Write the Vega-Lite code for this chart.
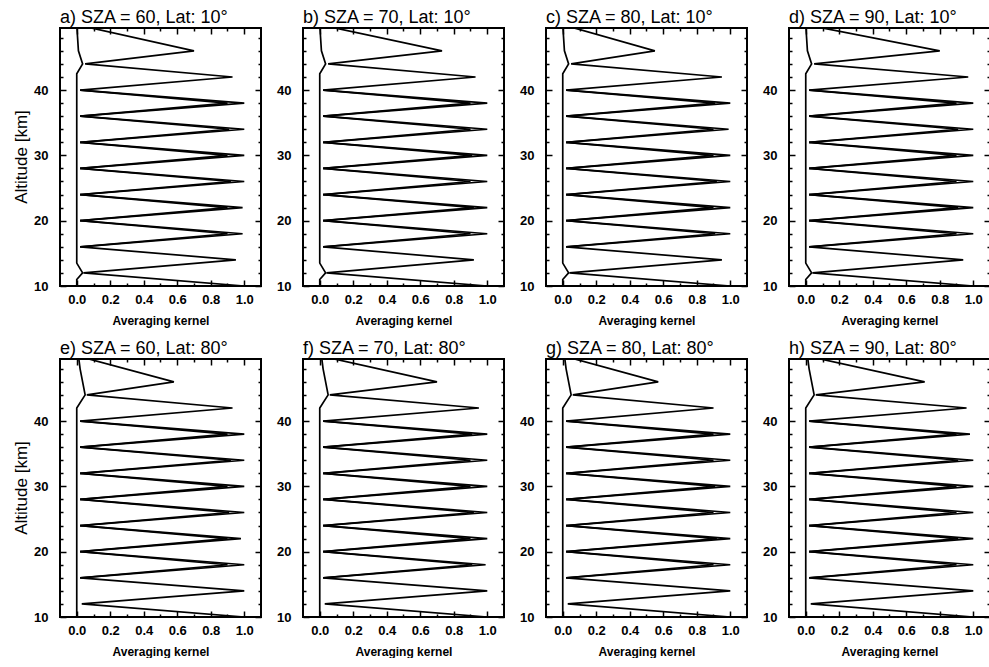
{
"$schema": "https://vega.github.io/schema/vega-lite/v6.json",
"padding": {"left": 12, "top": 9, "right": 0, "bottom": 0},
"datasets": {
"panels": [
{"p":"a","title":"a) SZA = 60, Lat: 10°","row":"top","ylab":"Altitude [km]"},
{"p":"b","title":"b) SZA = 70, Lat: 10°","row":"top","ylab":"Altitude [km]"},
{"p":"c","title":"c) SZA = 80, Lat: 10°","row":"top","ylab":"Altitude [km]"},
{"p":"d","title":"d) SZA = 90, Lat: 10°","row":"top","ylab":"Altitude [km]"},
{"p":"e","title":"e) SZA = 60, Lat: 80°","row":"bottom","ylab":"Altitude [km]"},
{"p":"f","title":"f) SZA = 70, Lat: 80°","row":"bottom","ylab":"Altitude [km]"},
{"p":"g","title":"g) SZA = 80, Lat: 80°","row":"bottom","ylab":"Altitude [km]"},
{"p":"h","title":"h) SZA = 90, Lat: 80°","row":"bottom","ylab":"Altitude [km]"}
],
"k": [
{"p":"a","s":"z","alt":50,"ak":0},{"p":"a","s":"z","alt":46,"ak":0.70},{"p":"a","s":"z","alt":44,"ak":0.05},{"p":"a","s":"z","alt":42,"ak":0.93},{"p":"a","s":"z","alt":40,"ak":0.02},{"p":"a","s":"z","alt":38,"ak":1.0},{"p":"a","s":"z","alt":36,"ak":0.02},{"p":"a","s":"z","alt":34,"ak":1.0},{"p":"a","s":"z","alt":32,"ak":0.02},{"p":"a","s":"z","alt":30,"ak":1.0},{"p":"a","s":"z","alt":28,"ak":0.02},{"p":"a","s":"z","alt":26,"ak":1.0},{"p":"a","s":"z","alt":24,"ak":0.02},{"p":"a","s":"z","alt":22,"ak":0.99},{"p":"a","s":"z","alt":20,"ak":0.02},{"p":"a","s":"z","alt":18,"ak":0.99},{"p":"a","s":"z","alt":16,"ak":0.02},{"p":"a","s":"z","alt":14,"ak":0.95},{"p":"a","s":"z","alt":12,"ak":0.04},{"p":"a","s":"z","alt":10,"ak":1.0},
{"p":"a","s":"0","alt":10,"ak":0},{"p":"a","s":"0","alt":11,"ak":0},{"p":"a","s":"0","alt":12,"ak":0.035},{"p":"a","s":"0","alt":13.5,"ak":0},{"p":"a","s":"0","alt":42.5,"ak":0},{"p":"a","s":"0","alt":44,"ak":0.035},{"p":"a","s":"0","alt":46,"ak":0.01},{"p":"a","s":"0","alt":50,"ak":0},
{"p":"a","s":"s38","alt":40,"ak":0.02},{"p":"a","s":"s38","alt":38,"ak":0.9},{"p":"a","s":"s38","alt":36,"ak":0.02},
{"p":"a","s":"s34","alt":36,"ak":0.02},{"p":"a","s":"s34","alt":34,"ak":0.91},{"p":"a","s":"s34","alt":32,"ak":0.02},
{"p":"a","s":"s30","alt":32,"ak":0.02},{"p":"a","s":"s30","alt":30,"ak":0.9},{"p":"a","s":"s30","alt":28,"ak":0.02},
{"p":"a","s":"s26","alt":28,"ak":0.02},{"p":"a","s":"s26","alt":26,"ak":0.92},{"p":"a","s":"s26","alt":24,"ak":0.02},
{"p":"a","s":"s22","alt":24,"ak":0.02},{"p":"a","s":"s22","alt":22,"ak":0.9},{"p":"a","s":"s22","alt":20,"ak":0.02},
{"p":"a","s":"s18","alt":20,"ak":0.02},{"p":"a","s":"s18","alt":18,"ak":0.9},{"p":"a","s":"s18","alt":16,"ak":0.02},

{"p":"b","s":"z","alt":50,"ak":0},{"p":"b","s":"z","alt":46,"ak":0.73},{"p":"b","s":"z","alt":44,"ak":0.05},{"p":"b","s":"z","alt":42,"ak":0.93},{"p":"b","s":"z","alt":40,"ak":0.02},{"p":"b","s":"z","alt":38,"ak":1.0},{"p":"b","s":"z","alt":36,"ak":0.02},{"p":"b","s":"z","alt":34,"ak":1.0},{"p":"b","s":"z","alt":32,"ak":0.02},{"p":"b","s":"z","alt":30,"ak":1.0},{"p":"b","s":"z","alt":28,"ak":0.02},{"p":"b","s":"z","alt":26,"ak":1.0},{"p":"b","s":"z","alt":24,"ak":0.02},{"p":"b","s":"z","alt":22,"ak":1.0},{"p":"b","s":"z","alt":20,"ak":0.02},{"p":"b","s":"z","alt":18,"ak":1.0},{"p":"b","s":"z","alt":16,"ak":0.02},{"p":"b","s":"z","alt":14,"ak":0.92},{"p":"b","s":"z","alt":12,"ak":0.04},{"p":"b","s":"z","alt":10,"ak":1.0},
{"p":"b","s":"0","alt":10,"ak":0},{"p":"b","s":"0","alt":11,"ak":0},{"p":"b","s":"0","alt":12,"ak":0.035},{"p":"b","s":"0","alt":13.5,"ak":0},{"p":"b","s":"0","alt":42.5,"ak":0},{"p":"b","s":"0","alt":44,"ak":0.035},{"p":"b","s":"0","alt":46,"ak":0.01},{"p":"b","s":"0","alt":50,"ak":0},
{"p":"b","s":"s38","alt":40,"ak":0.02},{"p":"b","s":"s38","alt":38,"ak":0.9},{"p":"b","s":"s38","alt":36,"ak":0.02},
{"p":"b","s":"s34","alt":36,"ak":0.02},{"p":"b","s":"s34","alt":34,"ak":0.9},{"p":"b","s":"s34","alt":32,"ak":0.02},
{"p":"b","s":"s30","alt":32,"ak":0.02},{"p":"b","s":"s30","alt":30,"ak":0.91},{"p":"b","s":"s30","alt":28,"ak":0.02},
{"p":"b","s":"s26","alt":28,"ak":0.02},{"p":"b","s":"s26","alt":26,"ak":0.9},{"p":"b","s":"s26","alt":24,"ak":0.02},
{"p":"b","s":"s22","alt":24,"ak":0.02},{"p":"b","s":"s22","alt":22,"ak":0.92},{"p":"b","s":"s22","alt":20,"ak":0.02},
{"p":"b","s":"s18","alt":20,"ak":0.02},{"p":"b","s":"s18","alt":18,"ak":0.9},{"p":"b","s":"s18","alt":16,"ak":0.02},

{"p":"c","s":"z","alt":50,"ak":0},{"p":"c","s":"z","alt":46,"ak":0.55},{"p":"c","s":"z","alt":44,"ak":0.05},{"p":"c","s":"z","alt":42,"ak":0.95},{"p":"c","s":"z","alt":40,"ak":0.02},{"p":"c","s":"z","alt":38,"ak":1.0},{"p":"c","s":"z","alt":36,"ak":0.02},{"p":"c","s":"z","alt":34,"ak":0.99},{"p":"c","s":"z","alt":32,"ak":0.02},{"p":"c","s":"z","alt":30,"ak":1.0},{"p":"c","s":"z","alt":28,"ak":0.02},{"p":"c","s":"z","alt":26,"ak":1.0},{"p":"c","s":"z","alt":24,"ak":0.02},{"p":"c","s":"z","alt":22,"ak":1.0},{"p":"c","s":"z","alt":20,"ak":0.02},{"p":"c","s":"z","alt":18,"ak":1.0},{"p":"c","s":"z","alt":16,"ak":0.02},{"p":"c","s":"z","alt":14,"ak":0.95},{"p":"c","s":"z","alt":12,"ak":0.04},{"p":"c","s":"z","alt":10,"ak":1.0},
{"p":"c","s":"0","alt":10,"ak":0},{"p":"c","s":"0","alt":11,"ak":0},{"p":"c","s":"0","alt":12,"ak":0.035},{"p":"c","s":"0","alt":13.5,"ak":0},{"p":"c","s":"0","alt":42.5,"ak":0},{"p":"c","s":"0","alt":44,"ak":0.035},{"p":"c","s":"0","alt":46,"ak":0.01},{"p":"c","s":"0","alt":50,"ak":0},
{"p":"c","s":"s38","alt":40,"ak":0.02},{"p":"c","s":"s38","alt":38,"ak":0.91},{"p":"c","s":"s38","alt":36,"ak":0.02},
{"p":"c","s":"s34","alt":36,"ak":0.02},{"p":"c","s":"s34","alt":34,"ak":0.9},{"p":"c","s":"s34","alt":32,"ak":0.02},
{"p":"c","s":"s30","alt":32,"ak":0.02},{"p":"c","s":"s30","alt":30,"ak":0.9},{"p":"c","s":"s30","alt":28,"ak":0.02},
{"p":"c","s":"s26","alt":28,"ak":0.02},{"p":"c","s":"s26","alt":26,"ak":0.92},{"p":"c","s":"s26","alt":24,"ak":0.02},
{"p":"c","s":"s22","alt":24,"ak":0.02},{"p":"c","s":"s22","alt":22,"ak":0.9},{"p":"c","s":"s22","alt":20,"ak":0.02},
{"p":"c","s":"s18","alt":20,"ak":0.02},{"p":"c","s":"s18","alt":18,"ak":0.91},{"p":"c","s":"s18","alt":16,"ak":0.02},

{"p":"d","s":"z","alt":50,"ak":0},{"p":"d","s":"z","alt":46,"ak":0.80},{"p":"d","s":"z","alt":44,"ak":0.05},{"p":"d","s":"z","alt":42,"ak":0.97},{"p":"d","s":"z","alt":40,"ak":0.02},{"p":"d","s":"z","alt":38,"ak":1.0},{"p":"d","s":"z","alt":36,"ak":0.02},{"p":"d","s":"z","alt":34,"ak":1.0},{"p":"d","s":"z","alt":32,"ak":0.02},{"p":"d","s":"z","alt":30,"ak":1.0},{"p":"d","s":"z","alt":28,"ak":0.02},{"p":"d","s":"z","alt":26,"ak":1.0},{"p":"d","s":"z","alt":24,"ak":0.02},{"p":"d","s":"z","alt":22,"ak":1.0},{"p":"d","s":"z","alt":20,"ak":0.02},{"p":"d","s":"z","alt":18,"ak":1.0},{"p":"d","s":"z","alt":16,"ak":0.02},{"p":"d","s":"z","alt":14,"ak":0.94},{"p":"d","s":"z","alt":12,"ak":0.04},{"p":"d","s":"z","alt":10,"ak":1.0},
{"p":"d","s":"0","alt":10,"ak":0},{"p":"d","s":"0","alt":11,"ak":0},{"p":"d","s":"0","alt":12,"ak":0.035},{"p":"d","s":"0","alt":13.5,"ak":0},{"p":"d","s":"0","alt":42.5,"ak":0},{"p":"d","s":"0","alt":44,"ak":0.035},{"p":"d","s":"0","alt":46,"ak":0.01},{"p":"d","s":"0","alt":50,"ak":0},
{"p":"d","s":"s38","alt":40,"ak":0.02},{"p":"d","s":"s38","alt":38,"ak":0.9},{"p":"d","s":"s38","alt":36,"ak":0.02},
{"p":"d","s":"s34","alt":36,"ak":0.02},{"p":"d","s":"s34","alt":34,"ak":0.91},{"p":"d","s":"s34","alt":32,"ak":0.02},
{"p":"d","s":"s30","alt":32,"ak":0.02},{"p":"d","s":"s30","alt":30,"ak":0.9},{"p":"d","s":"s30","alt":28,"ak":0.02},
{"p":"d","s":"s26","alt":28,"ak":0.02},{"p":"d","s":"s26","alt":26,"ak":0.9},{"p":"d","s":"s26","alt":24,"ak":0.02},
{"p":"d","s":"s22","alt":24,"ak":0.02},{"p":"d","s":"s22","alt":22,"ak":0.91},{"p":"d","s":"s22","alt":20,"ak":0.02},
{"p":"d","s":"s18","alt":20,"ak":0.02},{"p":"d","s":"s18","alt":18,"ak":0.9},{"p":"d","s":"s18","alt":16,"ak":0.02},

{"p":"e","s":"z","alt":50,"ak":0},{"p":"e","s":"z","alt":46,"ak":0.58},{"p":"e","s":"z","alt":44,"ak":0.06},{"p":"e","s":"z","alt":42,"ak":0.93},{"p":"e","s":"z","alt":40,"ak":0.02},{"p":"e","s":"z","alt":38,"ak":1.0},{"p":"e","s":"z","alt":36,"ak":0.02},{"p":"e","s":"z","alt":34,"ak":1.0},{"p":"e","s":"z","alt":32,"ak":0.02},{"p":"e","s":"z","alt":30,"ak":1.0},{"p":"e","s":"z","alt":28,"ak":0.02},{"p":"e","s":"z","alt":26,"ak":1.0},{"p":"e","s":"z","alt":24,"ak":0.02},{"p":"e","s":"z","alt":22,"ak":0.98},{"p":"e","s":"z","alt":20,"ak":0.02},{"p":"e","s":"z","alt":18,"ak":1.0},{"p":"e","s":"z","alt":16,"ak":0.02},{"p":"e","s":"z","alt":14,"ak":1.0},{"p":"e","s":"z","alt":12,"ak":0.03},{"p":"e","s":"z","alt":10,"ak":1.0},
{"p":"e","s":"0","alt":10,"ak":0},{"p":"e","s":"0","alt":42,"ak":0},{"p":"e","s":"0","alt":44,"ak":0.05},{"p":"e","s":"0","alt":48,"ak":0.02},{"p":"e","s":"0","alt":50,"ak":0.01},
{"p":"e","s":"s38","alt":40,"ak":0.02},{"p":"e","s":"s38","alt":38,"ak":0.9},{"p":"e","s":"s38","alt":36,"ak":0.02},
{"p":"e","s":"s34","alt":36,"ak":0.02},{"p":"e","s":"s34","alt":34,"ak":0.92},{"p":"e","s":"s34","alt":32,"ak":0.02},
{"p":"e","s":"s30","alt":32,"ak":0.02},{"p":"e","s":"s30","alt":30,"ak":0.9},{"p":"e","s":"s30","alt":28,"ak":0.02},
{"p":"e","s":"s26","alt":28,"ak":0.02},{"p":"e","s":"s26","alt":26,"ak":0.91},{"p":"e","s":"s26","alt":24,"ak":0.02},
{"p":"e","s":"s22","alt":24,"ak":0.02},{"p":"e","s":"s22","alt":22,"ak":0.9},{"p":"e","s":"s22","alt":20,"ak":0.02},
{"p":"e","s":"s18","alt":20,"ak":0.02},{"p":"e","s":"s18","alt":18,"ak":0.9},{"p":"e","s":"s18","alt":16,"ak":0.02},

{"p":"f","s":"z","alt":50,"ak":0},{"p":"f","s":"z","alt":46,"ak":0.70},{"p":"f","s":"z","alt":44,"ak":0.06},{"p":"f","s":"z","alt":42,"ak":0.95},{"p":"f","s":"z","alt":40,"ak":0.02},{"p":"f","s":"z","alt":38,"ak":1.0},{"p":"f","s":"z","alt":36,"ak":0.02},{"p":"f","s":"z","alt":34,"ak":1.0},{"p":"f","s":"z","alt":32,"ak":0.02},{"p":"f","s":"z","alt":30,"ak":1.0},{"p":"f","s":"z","alt":28,"ak":0.02},{"p":"f","s":"z","alt":26,"ak":1.0},{"p":"f","s":"z","alt":24,"ak":0.02},{"p":"f","s":"z","alt":22,"ak":1.0},{"p":"f","s":"z","alt":20,"ak":0.02},{"p":"f","s":"z","alt":18,"ak":0.99},{"p":"f","s":"z","alt":16,"ak":0.02},{"p":"f","s":"z","alt":14,"ak":1.0},{"p":"f","s":"z","alt":12,"ak":0.03},{"p":"f","s":"z","alt":10,"ak":1.0},
{"p":"f","s":"0","alt":10,"ak":0},{"p":"f","s":"0","alt":42,"ak":0},{"p":"f","s":"0","alt":44,"ak":0.05},{"p":"f","s":"0","alt":48,"ak":0.02},{"p":"f","s":"0","alt":50,"ak":0.01},
{"p":"f","s":"s38","alt":40,"ak":0.02},{"p":"f","s":"s38","alt":38,"ak":0.91},{"p":"f","s":"s38","alt":36,"ak":0.02},
{"p":"f","s":"s34","alt":36,"ak":0.02},{"p":"f","s":"s34","alt":34,"ak":0.9},{"p":"f","s":"s34","alt":32,"ak":0.02},
{"p":"f","s":"s30","alt":32,"ak":0.02},{"p":"f","s":"s30","alt":30,"ak":0.9},{"p":"f","s":"s30","alt":28,"ak":0.02},
{"p":"f","s":"s26","alt":28,"ak":0.02},{"p":"f","s":"s26","alt":26,"ak":0.92},{"p":"f","s":"s26","alt":24,"ak":0.02},
{"p":"f","s":"s22","alt":24,"ak":0.02},{"p":"f","s":"s22","alt":22,"ak":0.9},{"p":"f","s":"s22","alt":20,"ak":0.02},
{"p":"f","s":"s18","alt":20,"ak":0.02},{"p":"f","s":"s18","alt":18,"ak":0.91},{"p":"f","s":"s18","alt":16,"ak":0.02},

{"p":"g","s":"z","alt":50,"ak":0},{"p":"g","s":"z","alt":46,"ak":0.57},{"p":"g","s":"z","alt":44,"ak":0.06},{"p":"g","s":"z","alt":42,"ak":0.9},{"p":"g","s":"z","alt":40,"ak":0.02},{"p":"g","s":"z","alt":38,"ak":1.0},{"p":"g","s":"z","alt":36,"ak":0.02},{"p":"g","s":"z","alt":34,"ak":1.0},{"p":"g","s":"z","alt":32,"ak":0.02},{"p":"g","s":"z","alt":30,"ak":1.0},{"p":"g","s":"z","alt":28,"ak":0.02},{"p":"g","s":"z","alt":26,"ak":1.0},{"p":"g","s":"z","alt":24,"ak":0.02},{"p":"g","s":"z","alt":22,"ak":1.0},{"p":"g","s":"z","alt":20,"ak":0.02},{"p":"g","s":"z","alt":18,"ak":1.0},{"p":"g","s":"z","alt":16,"ak":0.02},{"p":"g","s":"z","alt":14,"ak":1.0},{"p":"g","s":"z","alt":12,"ak":0.03},{"p":"g","s":"z","alt":10,"ak":1.0},
{"p":"g","s":"0","alt":10,"ak":0},{"p":"g","s":"0","alt":42,"ak":0},{"p":"g","s":"0","alt":44,"ak":0.05},{"p":"g","s":"0","alt":48,"ak":0.02},{"p":"g","s":"0","alt":50,"ak":0.01},
{"p":"g","s":"s38","alt":40,"ak":0.02},{"p":"g","s":"s38","alt":38,"ak":0.9},{"p":"g","s":"s38","alt":36,"ak":0.02},
{"p":"g","s":"s34","alt":36,"ak":0.02},{"p":"g","s":"s34","alt":34,"ak":0.9},{"p":"g","s":"s34","alt":32,"ak":0.02},
{"p":"g","s":"s30","alt":32,"ak":0.02},{"p":"g","s":"s30","alt":30,"ak":0.91},{"p":"g","s":"s30","alt":28,"ak":0.02},
{"p":"g","s":"s26","alt":28,"ak":0.02},{"p":"g","s":"s26","alt":26,"ak":0.9},{"p":"g","s":"s26","alt":24,"ak":0.02},
{"p":"g","s":"s22","alt":24,"ak":0.02},{"p":"g","s":"s22","alt":22,"ak":0.92},{"p":"g","s":"s22","alt":20,"ak":0.02},
{"p":"g","s":"s18","alt":20,"ak":0.02},{"p":"g","s":"s18","alt":18,"ak":0.9},{"p":"g","s":"s18","alt":16,"ak":0.02},

{"p":"h","s":"z","alt":50,"ak":0},{"p":"h","s":"z","alt":46,"ak":0.71},{"p":"h","s":"z","alt":44,"ak":0.06},{"p":"h","s":"z","alt":42,"ak":0.96},{"p":"h","s":"z","alt":40,"ak":0.02},{"p":"h","s":"z","alt":38,"ak":0.98},{"p":"h","s":"z","alt":36,"ak":0.02},{"p":"h","s":"z","alt":34,"ak":1.0},{"p":"h","s":"z","alt":32,"ak":0.02},{"p":"h","s":"z","alt":30,"ak":1.0},{"p":"h","s":"z","alt":28,"ak":0.02},{"p":"h","s":"z","alt":26,"ak":1.0},{"p":"h","s":"z","alt":24,"ak":0.02},{"p":"h","s":"z","alt":22,"ak":1.0},{"p":"h","s":"z","alt":20,"ak":0.02},{"p":"h","s":"z","alt":18,"ak":1.0},{"p":"h","s":"z","alt":16,"ak":0.02},{"p":"h","s":"z","alt":14,"ak":1.0},{"p":"h","s":"z","alt":12,"ak":0.03},{"p":"h","s":"z","alt":10,"ak":1.0},
{"p":"h","s":"0","alt":10,"ak":0},{"p":"h","s":"0","alt":42,"ak":0},{"p":"h","s":"0","alt":44,"ak":0.05},{"p":"h","s":"0","alt":48,"ak":0.02},{"p":"h","s":"0","alt":50,"ak":0.01},
{"p":"h","s":"s38","alt":40,"ak":0.02},{"p":"h","s":"s38","alt":38,"ak":0.9},{"p":"h","s":"s38","alt":36,"ak":0.02},
{"p":"h","s":"s34","alt":36,"ak":0.02},{"p":"h","s":"s34","alt":34,"ak":0.91},{"p":"h","s":"s34","alt":32,"ak":0.02},
{"p":"h","s":"s30","alt":32,"ak":0.02},{"p":"h","s":"s30","alt":30,"ak":0.9},{"p":"h","s":"s30","alt":28,"ak":0.02},
{"p":"h","s":"s26","alt":28,"ak":0.02},{"p":"h","s":"s26","alt":26,"ak":0.9},{"p":"h","s":"s26","alt":24,"ak":0.02},
{"p":"h","s":"s22","alt":24,"ak":0.02},{"p":"h","s":"s22","alt":22,"ak":0.91},{"p":"h","s":"s22","alt":20,"ak":0.02},
{"p":"h","s":"s18","alt":20,"ak":0.02},{"p":"h","s":"s18","alt":18,"ak":0.9},{"p":"h","s":"s18","alt":16,"ak":0.02}
]
},
"data": {"name": "k"},
"transform": [
{"lookup": "p", "from": {"data": {"name": "panels"}, "key": "p", "fields": ["title", "row", "ylab"]}}
],
"vconcat": [
{
"transform": [{"filter": "datum.row == 'top'"}],
"facet": {
"row": {"field": "ylab", "type": "nominal", "header": {"title": null, "labelAngle": -90, "labelOrient": "left", "labelFontSize": 17, "labelFont": "Liberation Sans", "labelColor": "black", "labelPadding": 21}},
"column": {"field": "title", "type": "nominal", "header": {"title": null, "labelFontSize": 18, "labelFont": "Liberation Sans", "labelColor": "black", "labelAnchor": "start", "labelAlign": "left", "labelPadding": 1}}
},
"bounds": "flush",
"spacing": {"column": 42},
"resolve": {"axis": {"x": "independent", "y": "independent"}},
"spec": {
"width": 201, "height": 258,
"layer": [
{
"transform": [{"filter": "datum.s != '0'"}],
"mark": {"type": "line", "color": "black", "strokeWidth": 1.7, "clip": true},
"encoding": {
"x": {"field": "ak", "type": "quantitative", "scale": {"domain": [-0.1, 1.1], "nice": false, "zero": false},
"axis": {"orient": "bottom", "title": "Averaging kernel", "values": [0,0.1,0.2,0.3,0.4,0.5,0.6,0.7,0.8,0.9,1.0], "labelExpr": "abs(round(datum.value*10) % 2) == 0 ? format(datum.value, '.1f') : ''", "tickSize": {"condition": {"test": "abs(round(datum.value*10) % 2) == 0", "value": -6}, "value": -3}, "domain": false, "grid": false, "tickColor": "black", "tickWidth": 1.5, "labelFontSize": 13, "labelFontWeight": "bold", "labelColor": "black", "labelPadding": 13, "titleFontSize": 12, "titleFontWeight": "bold", "titleColor": "black", "titlePadding": 9}},
"y": {"field": "alt", "type": "quantitative", "scale": {"domain": [10, 49.5], "nice": false, "zero": false},
"axis": {"orient": "left", "title": null, "values": [10,12,14,16,18,20,22,24,26,28,30,32,34,36,38,40,42,44,46,48], "labelExpr": "datum.value % 10 == 0 ? datum.label : ''", "tickSize": {"condition": {"test": "datum.value % 10 == 0", "value": -6}, "value": -3}, "domain": false, "grid": false, "tickColor": "black", "tickWidth": 1.5, "labelFontSize": 13, "labelFontWeight": "bold", "labelColor": "black", "labelPadding": 18}},
"detail": {"field": "s", "type": "nominal"},
"order": {"field": "alt", "type": "quantitative"}
}
},
{
"transform": [{"filter": "datum.s == '0'"}],
"mark": {"type": "line", "color": "black", "strokeWidth": 1.7, "clip": true},
"encoding": {
"x": {"field": "ak", "type": "quantitative", "axis": {"orient": "top", "title": null, "labels": false, "values": [0,0.1,0.2,0.3,0.4,0.5,0.6,0.7,0.8,0.9,1.0], "tickSize": {"condition": {"test": "abs(round(datum.value*10) % 2) == 0", "value": -6}, "value": -3}, "domain": false, "grid": false, "tickColor": "black", "tickWidth": 1.5}},
"y": {"field": "alt", "type": "quantitative", "axis": {"orient": "right", "title": null, "labels": false, "values": [10,12,14,16,18,20,22,24,26,28,30,32,34,36,38,40,42,44,46,48], "tickSize": {"condition": {"test": "datum.value % 10 == 0", "value": -6}, "value": -3}, "domain": false, "grid": false, "tickColor": "black", "tickWidth": 1.5}},
"order": {"field": "alt", "type": "quantitative"}
}
}
],
"resolve": {"axis": {"x": "independent", "y": "independent"}}
}
},
{
"transform": [{"filter": "datum.row == 'bottom'"}],
"facet": {
"row": {"field": "ylab", "type": "nominal", "header": {"title": null, "labelAngle": -90, "labelOrient": "left", "labelFontSize": 17, "labelFont": "Liberation Sans", "labelColor": "black", "labelPadding": 21}},
"column": {"field": "title", "type": "nominal", "header": {"title": null, "labelFontSize": 18, "labelFont": "Liberation Sans", "labelColor": "black", "labelAnchor": "start", "labelAlign": "left", "labelPadding": 1}}
},
"bounds": "flush",
"spacing": {"column": 42},
"resolve": {"axis": {"x": "independent", "y": "independent"}},
"spec": {
"width": 201, "height": 258,
"layer": [
{
"transform": [{"filter": "datum.s != '0'"}],
"mark": {"type": "line", "color": "black", "strokeWidth": 1.7, "clip": true},
"encoding": {
"x": {"field": "ak", "type": "quantitative", "scale": {"domain": [-0.1, 1.1], "nice": false, "zero": false},
"axis": {"orient": "bottom", "title": "Averaging kernel", "values": [0,0.1,0.2,0.3,0.4,0.5,0.6,0.7,0.8,0.9,1.0], "labelExpr": "abs(round(datum.value*10) % 2) == 0 ? format(datum.value, '.1f') : ''", "tickSize": {"condition": {"test": "abs(round(datum.value*10) % 2) == 0", "value": -6}, "value": -3}, "domain": false, "grid": false, "tickColor": "black", "tickWidth": 1.5, "labelFontSize": 13, "labelFontWeight": "bold", "labelColor": "black", "labelPadding": 13, "titleFontSize": 12, "titleFontWeight": "bold", "titleColor": "black", "titlePadding": 9}},
"y": {"field": "alt", "type": "quantitative", "scale": {"domain": [10, 49.5], "nice": false, "zero": false},
"axis": {"orient": "left", "title": null, "values": [10,12,14,16,18,20,22,24,26,28,30,32,34,36,38,40,42,44,46,48], "labelExpr": "datum.value % 10 == 0 ? datum.label : ''", "tickSize": {"condition": {"test": "datum.value % 10 == 0", "value": -6}, "value": -3}, "domain": false, "grid": false, "tickColor": "black", "tickWidth": 1.5, "labelFontSize": 13, "labelFontWeight": "bold", "labelColor": "black", "labelPadding": 18}},
"detail": {"field": "s", "type": "nominal"},
"order": {"field": "alt", "type": "quantitative"}
}
},
{
"transform": [{"filter": "datum.s == '0'"}],
"mark": {"type": "line", "color": "black", "strokeWidth": 1.7, "clip": true},
"encoding": {
"x": {"field": "ak", "type": "quantitative", "axis": {"orient": "top", "title": null, "labels": false, "values": [0,0.1,0.2,0.3,0.4,0.5,0.6,0.7,0.8,0.9,1.0], "tickSize": {"condition": {"test": "abs(round(datum.value*10) % 2) == 0", "value": -6}, "value": -3}, "domain": false, "grid": false, "tickColor": "black", "tickWidth": 1.5}},
"y": {"field": "alt", "type": "quantitative", "axis": {"orient": "right", "title": null, "labels": false, "values": [10,12,14,16,18,20,22,24,26,28,30,32,34,36,38,40,42,44,46,48], "tickSize": {"condition": {"test": "datum.value % 10 == 0", "value": -6}, "value": -3}, "domain": false, "grid": false, "tickColor": "black", "tickWidth": 1.5}},
"order": {"field": "alt", "type": "quantitative"}
}
}
],
"resolve": {"axis": {"x": "independent", "y": "independent"}}
}
}
],
"spacing": 13,
"config": {
"font": "Liberation Sans",
"view": {"stroke": "black", "strokeWidth": 2},
"axis": {"labelFont": "Liberation Sans", "titleFont": "Liberation Sans"}
}
}
